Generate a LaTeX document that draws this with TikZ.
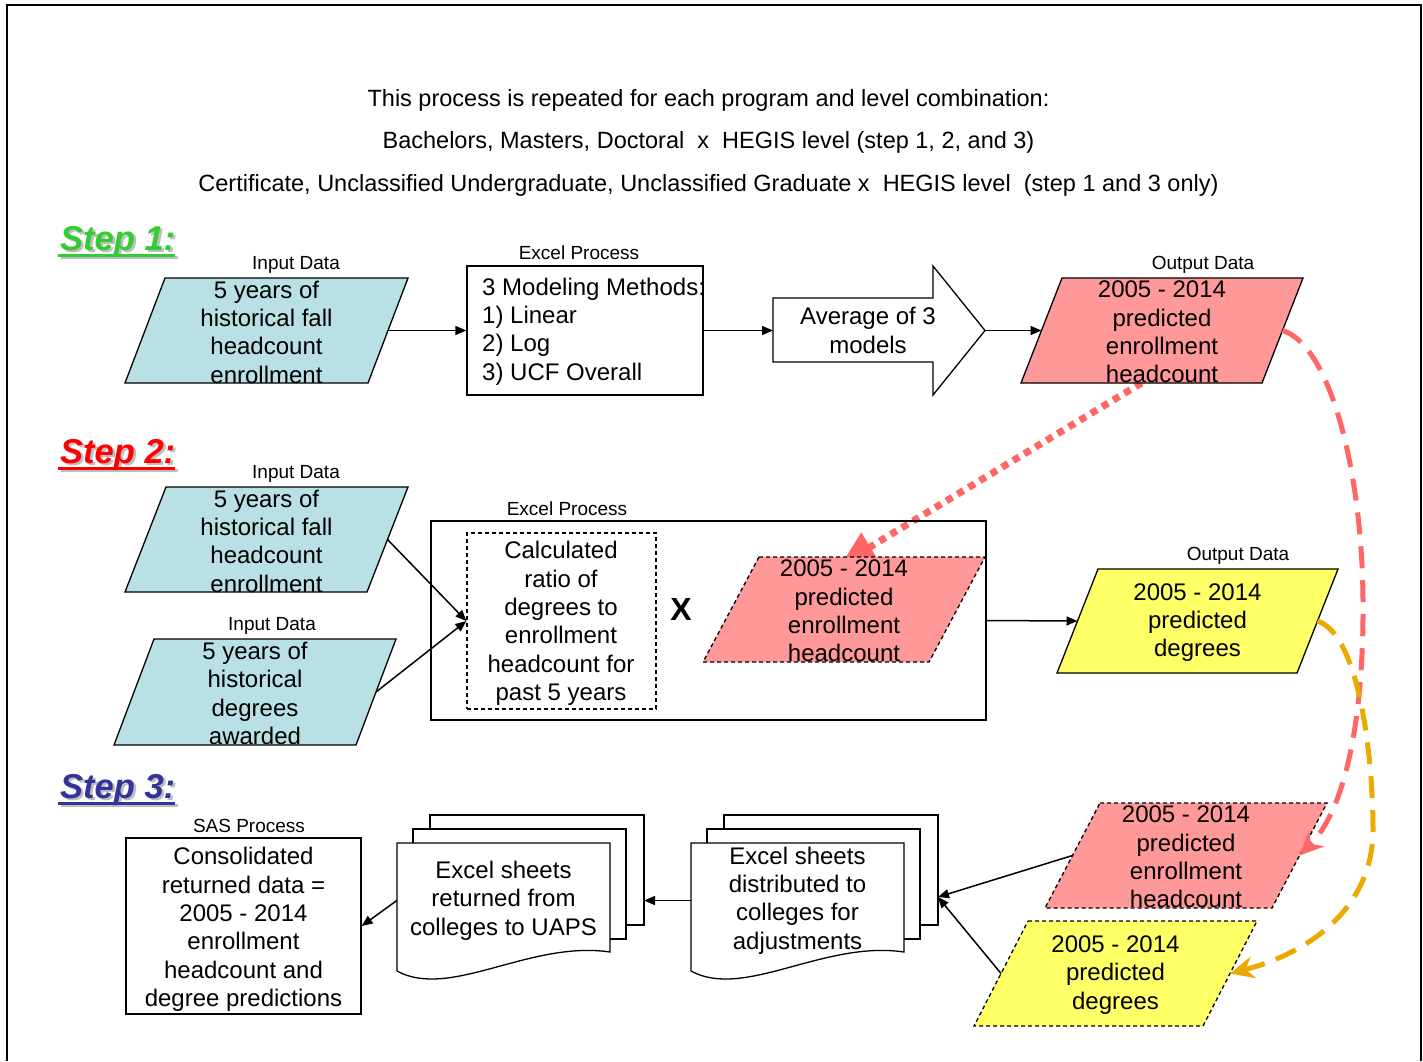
\documentclass[tikz,border=0pt]{standalone}
\usepackage{fontspec}
\setmainfont{Liberation Sans}
\usetikzlibrary{arrows.meta,calc}
\pgfdeclarelayer{under}
\pgfdeclarelayer{shapes}
\pgfsetlayers{under,shapes,main}
\definecolor{lblue}{RGB}{185,224,228}
\definecolor{lpink}{RGB}{255,153,153}
\definecolor{lyel}{RGB}{255,255,102}
\definecolor{cpink}{RGB}{255,102,102}
\definecolor{corange}{RGB}{234,171,0}
\definecolor{sgreen}{RGB}{51,204,51}
\definecolor{sred}{RGB}{255,0,0}
\definecolor{sblue}{RGB}{51,51,153}
\definecolor{sshadow}{RGB}{190,190,190}

% parallelogram: name, x-left(bottom), y-top, width, height, offset, style, text
\newcommand{\pgram}[8]{%
  \coordinate (#1-tl) at (#2+#6,#3);
  \coordinate (#1-tr) at (#2+#4,#3);
  \coordinate (#1-br) at (#2+#4-#6,#3+#5);
  \coordinate (#1-bl) at (#2,#3+#5);
  \coordinate (#1-r) at (#2+#4-#6/2,#3+#5/2);
  \coordinate (#1-l) at (#2+#6/2,#3+#5/2);
  \coordinate (#1-b) at (#2+#4/2-#6/2,#3+#5);
  \begin{pgfonlayer}{shapes}
  \draw[#7] (#1-tl) -- (#1-tr) -- (#1-br) -- (#1-bl) -- cycle;
  \end{pgfonlayer}
  \node[txt] (#1) at (#2+#4/2,#3+#5/2) {#8};
}
% multi-document: name, xshift, text
\newcommand{\mdoc}[3]{%
  \begin{pgfonlayer}{shapes}
  \draw[shp, fill=white] (#2+430,815) rectangle (#2+644,925);
  \draw[shp, fill=white] (#2+413,829) rectangle (#2+626,939);
  \draw[shp, fill=white] (#2+397,843) -- (#2+610,843) -- (#2+610,952)
     .. controls (#2+530,940) and (#2+450,1000) .. (#2+397,971) -- cycle;
  \end{pgfonlayer}
  \coordinate (#1-be) at (#2+644,897);
  \node[txt, minimum width=213pt, minimum height=110pt] (#1) at (#2+503.5,899) {#3};
}
% step label: name, x, baseline y, colour, text
\newcommand{\steplabel}[5]{%
  \node[steptxt, text=sshadow, anchor=base west] (#1-sh) at (#2+2.5,#3+2.5) {#5};
  \draw[sshadow, line width=3pt] ($(#1-sh.base west)+(-2,5)$) -- ($(#1-sh.base east)+(0,5)$);
  \node[steptxt, text=#4, anchor=base west] (#1) at (#2,#3) {#5};
  \draw[#4, line width=3pt] ($(#1.base west)+(-2,5)$) -- ($(#1.base east)+(0,5)$);
}

\begin{document}
\begin{tikzpicture}[x=1pt,y=-1pt,
  txt/.style={font=\fontsize{24}{28.3}\selectfont, align=center, inner sep=0pt, yshift=-1.5pt},
  lbl/.style={font=\fontsize{19}{22}\selectfont, inner sep=0pt, yshift=-2.5pt},
  ttl/.style={font=\fontsize{23.5}{27}\selectfont, inner sep=0pt, yshift=-2pt},
  steptxt/.style={font=\fontsize{34.5}{40}\selectfont\bfseries\itshape, inner sep=0pt},
  shp/.style={draw=black, line width=1.3pt},
  shpd/.style={draw=black, line width=1.3pt, dash pattern=on 4pt off 3pt},
  box/.style={draw=black, line width=1.3pt, inner sep=0pt},
  arr/.style={-{Triangle[length=11pt,width=9pt]}, line width=1.5pt}]
\useasboundingbox (0,0) rectangle (1423,1061);
\draw[line width=2pt] (7,1061) -- (7,5) -- (1421,5) -- (1421,1061);

% title
\node[ttl] (t1) at (708.5,98) {This process is repeated for each program and level combination:};
\node[ttl] (t2) at (708.5,140) {Bachelors, Masters, Doctoral~ x~ HEGIS level (step 1, 2, and 3)};
\node[ttl] (t3) at (708.5,183) {Certificate, Unclassified Undergraduate, Unclassified Graduate x~ HEGIS level~ (step 1 and 3 only)};

% step labels
\steplabel{st1}{60}{250}{sgreen}{Step 1:}
\steplabel{st2}{60}{463}{sred}{Step 2:}
\steplabel{st3}{60}{798}{sblue}{Step 3:}

% ---------- Step 1
\pgram{s1in}{125}{278}{283}{105}{40}{shp, fill=lblue}{5 years of\\historical fall\\headcount\\enrollment}
\node[lbl] (l1) at (296,262) {Input Data};
\node[box, minimum width=236pt, minimum height=129pt] (s1box) at (585,330.5) {};
\node[lbl] (l2) at (579,250) {Excel Process};
\node[txt, align=left, anchor=west] (s1m) at (482,330) {3 Modeling Methods:\\1) Linear\\2) Log\\3) UCF Overall};
\coordinate (avgT) at (773,330.5);
\coordinate (avgH) at (985,330.5);
\begin{pgfonlayer}{shapes}
\draw[shp, fill=white] (avgT |- 0,298) -- (933,298) -- (933,266) -- (avgH) -- (933,395) -- (933,362) -- (avgT |- 0,362) -- cycle;
\end{pgfonlayer}
\node[txt] (avg) at (868,329) {Average of 3\\models};
\pgram{s1out}{1021}{278}{282}{105}{41}{shp, fill=lpink}{2005 - 2014\\predicted\\enrollment\\headcount}
\node[lbl] (l3) at (1203,262) {Output Data};
\draw[arr] (s1in-r) -- (s1box.west);
\draw[arr] (s1box.east) -- (avgT);
\draw[arr] (avgH) -- (s1out-l);

% ---------- Step 2
\pgram{s2in1}{125}{487}{283}{105}{41}{shp, fill=lblue}{5 years of\\historical fall\\headcount\\enrollment}
\node[lbl] (l4) at (296,471) {Input Data};
\pgram{s2in2}{114}{639}{282}{106}{40}{shp, fill=lblue}{5 years of\\historical\\degrees\\awarded}
\node[lbl] (l5) at (272,623) {Input Data};
\node[box, minimum width=555pt, minimum height=199pt] (s2box) at (708.5,620.5) {};
\node[lbl] (l6) at (567,506) {Excel Process};
\node[box, dash pattern=on 4pt off 3pt, line width=1.2pt, minimum width=189pt, minimum height=176pt] (ratio) at (561.5,621) {};
\node[txt] (ratiot) at (561,622) {Calculated\\ratio of\\degrees to\\enrollment\\headcount for\\past 5 years};
\node[font=\fontsize{32}{32}\selectfont\bfseries, inner sep=0pt] (xx) at (681,609) {X};
\pgram{s2pink}{703}{557}{282}{105}{56}{shpd, fill=lpink}{2005 - 2014\\predicted\\enrollment\\headcount}
\pgram{s2out}{1057}{569}{281}{104}{41}{shp, fill=lyel}{2005 - 2014\\predicted\\degrees}
\node[lbl] (l7) at (1238,553) {Output Data};
\draw[arr] (s2in1-r) -- (ratio.west);
\draw[arr] (s2in2-r) -- (ratio.west);
\draw[arr] (s2box.east) -- (s2out-l);

% ---------- Step 3
\node[box, minimum width=235pt, minimum height=176pt] (sas) at (243.5,926) {};
\node[txt] (sast) at (243.5,928) {Consolidated\\returned data =\\2005 - 2014\\enrollment\\headcount and\\degree predictions};
\node[lbl] (l8) at (249,823) {SAS Process};
\mdoc{docL}{0}{Excel sheets\\returned from\\colleges to UAPS}
\mdoc{docR}{294}{Excel sheets\\distributed to\\colleges for\\adjustments}
\pgram{s3pink}{1045}{803}{282}{105}{55}{shpd, fill=lpink}{2005 - 2014\\predicted\\enrollment\\headcount}
\pgram{s3yel}{974}{921}{283}{105}{54}{shpd, fill=lyel}{2005 - 2014\\predicted\\degrees}
\draw[arr] (docR.west) -- (docL-be |- docR.west);
\draw[arr] (docL.west) -- (sas.east);
\draw[arr] (s3pink-l) -- (docR-be);
\draw[arr] (s3yel-l) -- (docR-be);

% ---------- coloured connectors
\begin{pgfonlayer}{under}
\draw[cpink, line width=7pt, dash pattern=on 7pt off 6pt, -{Triangle[length=34pt,width=32pt]}]
  (s1out-b) -- ($(s2pink)+(-3,-46.5)$);
\end{pgfonlayer}
\draw[cpink, line width=5pt, dash pattern=on 22pt off 12pt, -{Stealth[length=24pt,width=22pt]}]
  (s1out-r) .. controls (1330,345) and (1362,470) .. (1363,600)
  .. controls (1364,720) and (1345,810) .. (s3pink-r);
\draw[corange, line width=5pt, dash pattern=on 22pt off 12pt, -{Stealth[length=24pt,width=22pt]}]
  (s2out-r) .. controls (1360,635) and (1373,760) .. (1373,830)
  .. controls (1373,900) and (1320,950) .. (s3yel-r);
\end{tikzpicture}
\end{document}
